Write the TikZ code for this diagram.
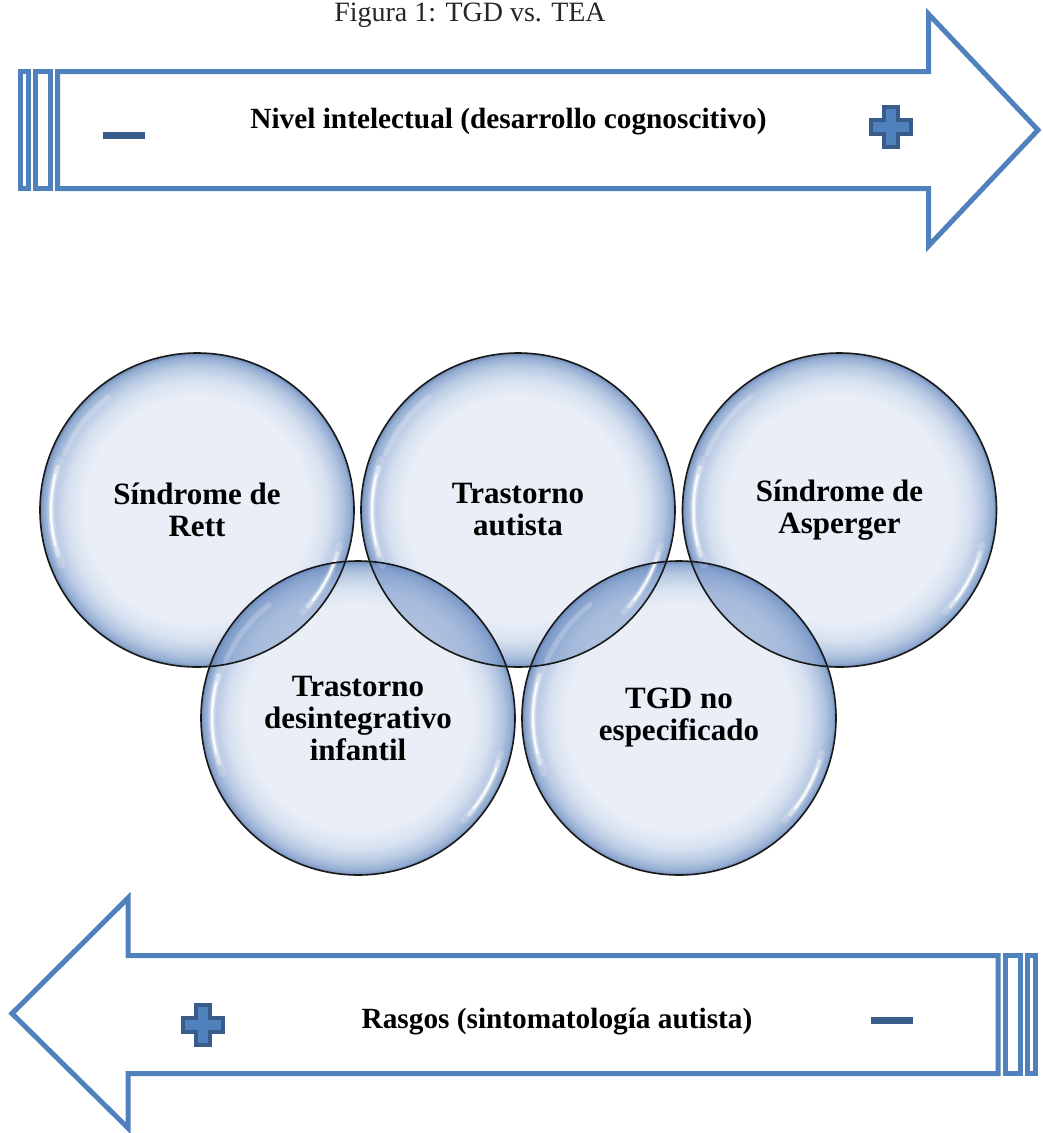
\documentclass[tikz,border=0pt]{standalone}
\usepackage{fontspec}
\setmainfont{Liberation Serif}
\definecolor{arrowblue}{HTML}{4F81BD}
\definecolor{signdark}{HTML}{385D8A}
\definecolor{bubA}{HTML}{E6ECF6}
\definecolor{bubB}{HTML}{D0DCEE}
\definecolor{bubC}{HTML}{A9BEDD}
\definecolor{bubD}{HTML}{809ECA}
\definecolor{bubE}{HTML}{5778AC}
\definecolor{lenstint}{HTML}{6F8FC4}
\pgfdeclareradialshading{bubble}{\pgfpoint{0bp}{0bp}}{color(0bp)=(bubA); color(18bp)=(bubA); color(20.8bp)=(bubB); color(23bp)=(bubC); color(24.4bp)=(bubD); color(25bp)=(bubE); color(50bp)=(bubE)}
\newcommand\bubhl[2]{%
  \draw[white, line width=8bp, opacity=0.18, line cap=round] (#1,#2) ++(200:146) arc[start angle=200, end angle=158, radius=146];
  \draw[white, line width=4.5bp, opacity=0.45, line cap=round] (#1,#2) ++(197:146) arc[start angle=197, end angle=162, radius=146];
  \draw[white, line width=2bp, opacity=0.9, line cap=round] (#1,#2) ++(194:146) arc[start angle=194, end angle=166, radius=146];
  \draw[white, line width=5bp, opacity=0.2, line cap=round] (#1,#2) ++(203:144) arc[start angle=203, end angle=232, radius=144];
  \draw[white, line width=7bp, opacity=0.18, line cap=round] (#1,#2) ++(14:147) arc[start angle=14, end angle=44, radius=147];
  \draw[white, line width=4bp, opacity=0.45, line cap=round] (#1,#2) ++(17:147) arc[start angle=17, end angle=41, radius=147];
  \draw[white, line width=1.8bp, opacity=0.9, line cap=round] (#1,#2) ++(20:147) arc[start angle=20, end angle=38, radius=147];
}
\newcommand\lensfill[4]{%
  \begin{scope}
    \clip (#1,#2) circle[radius=157];
    \fill[lenstint, fill opacity=0.42] (#3,#4) circle[radius=157];
  \end{scope}
}
\begin{document}
\begin{tikzpicture}[x=1bp,y=-1bp,
  arrowline/.style={draw=arrowblue, line width=5bp, fill=white, miter limit=10},
  minussign/.style={fill=signdark},
  plussign/.style={fill=arrowblue, draw=signdark, line width=4bp},
  arrowtext/.style={anchor=base, inner sep=0pt, font=\fontsize{29.3bp}{32bp}\selectfont\bfseries},
  captiontext/.style={anchor=base, inner sep=0pt, text=black!85, font=\fontsize{28bp}{32bp}\selectfont},
  bubnode/.style={circle, draw=black!90, line width=1.6bp, minimum size=314bp, inner sep=0pt, align=center, font=\fontsize{31bp}{32bp}\selectfont\bfseries}
]
\useasboundingbox (0,0) rectangle (1043,1133);
\fill[white] (0,0) rectangle (1043,1133);

% caption
\node[captiontext] (caption) at (470,21) {Figura 1: TGD vs. TEA};

% top arrow
\path[arrowline] (57.5,71.5) -- (928.5,71.5) -- (928.5,14) -- (1038,130) -- (928.5,246) -- (928.5,188.5) -- (57.5,188.5) -- cycle;
\path[arrowline] (35.2,71.5) rectangle (50.2,188.5);
\path[arrowline] (20.8,71.5) rectangle (28.5,188.5);
\fill[minussign] (103,132) rectangle (145,139);
\path[plussign] (884,107) -- (898,107) -- (898,120) -- (911,120) -- (911,134) -- (898,134) -- (898,147) -- (884,147) -- (884,134) -- (871,134) -- (871,120) -- (884,120) -- cycle;
\node[arrowtext] (nivel) at (508.5,128) {Nivel intelectual (desarrollo cognoscitivo)};

% bottom arrow
\path[arrowline] (998,955.5) -- (128,955.5) -- (128,898) -- (12,1013.5) -- (128,1128) -- (128,1073.5) -- (998,1073.5) -- cycle;
\path[arrowline] (1005.2,955.5) rectangle (1020.2,1073.5);
\path[arrowline] (1027.5,955.5) rectangle (1035.5,1073.5);
\fill[minussign] (871,1017) rectangle (913,1024);
\path[plussign] (196,1004.5) -- (210,1004.5) -- (210,1017.5) -- (223,1017.5) -- (223,1031.5) -- (210,1031.5) -- (210,1044.5) -- (196,1044.5) -- (196,1031.5) -- (183,1031.5) -- (183,1017.5) -- (196,1017.5) -- cycle;
\node[arrowtext] (rasgos) at (557,1028) {Rasgos (sintomatología autista)};

% bubbles: shading
\begin{scope}[fill opacity=0.85]
\shade[shading=bubble] (197,510) circle[radius=157];
\shade[shading=bubble] (518,510) circle[radius=157];
\shade[shading=bubble] (839.5,510) circle[radius=157];
\shade[shading=bubble] (358,718) circle[radius=157];
\shade[shading=bubble] (679,718) circle[radius=157];
\end{scope}
% overlaps
\lensfill{197}{510}{358}{718}
\lensfill{518}{510}{358}{718}
\lensfill{518}{510}{679}{718}
\lensfill{839.5}{510}{679}{718}
% highlights
\bubhl{197}{510}
\bubhl{518}{510}
\bubhl{839.5}{510}
\bubhl{358}{718}
\bubhl{679}{718}

% bubbles: outlines and text
\node[bubnode] (rett) at (197,510) {Síndrome de\\Rett};
\node[bubnode] (autista) at (518,510) {Trastorno\\autista};
\node[bubnode] (asperger) at (839.5,510) {Síndrome de\\Asperger};
\node[bubnode] (desint) at (358,718) {Trastorno\\desintegrativo\\infantil};
\node[bubnode] (tgd) at (679,718) {TGD no\\especificado};
\end{tikzpicture}
\end{document}
